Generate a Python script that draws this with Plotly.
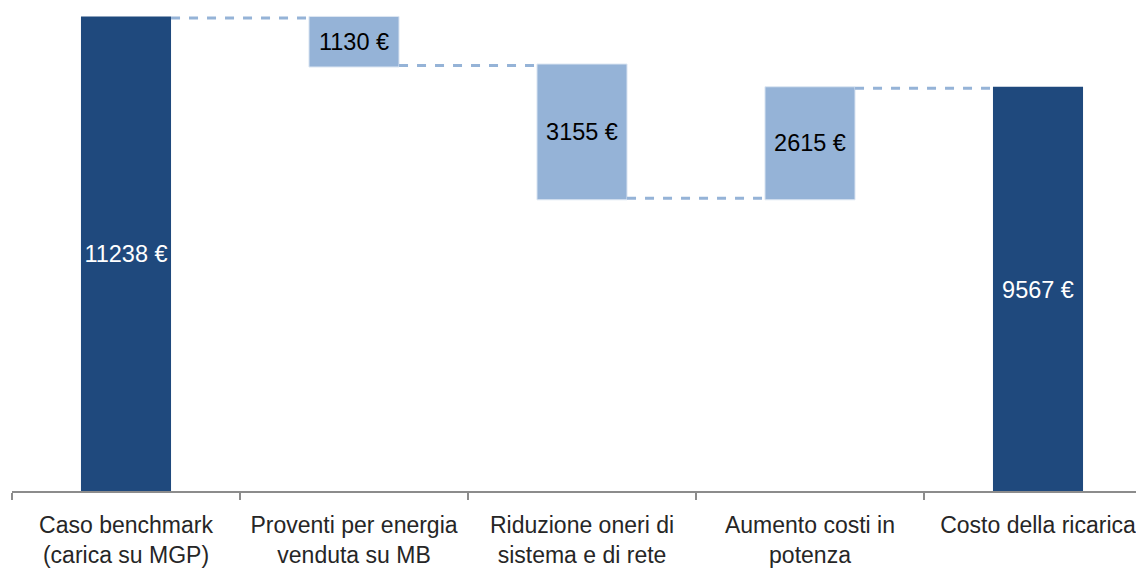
import plotly.graph_objects as go

categories = ["Caso benchmark<br>(carica su MGP)", "Proventi per energia<br>venduta su MB",
              "Riduzione oneri di<br>sistema e di rete", "Aumento costi in<br>potenza", "Costo della ricarica"]
measures = ["absolute", "relative", "relative", "relative", "total"]
values = [11238, -1130, -3155, 2615, 0]
labels = ["11238 €", "1130 €", "3155 €", "2615 €", "9567 €"]
label_colors = ["white", "black", "black", "black", "white"]

DARK = "#1F497D"
LIGHT = "#95B3D7"
FONT = "Liberation Sans, Arial, sans-serif"

fig = go.Figure(go.Waterfall(
    x=categories,
    measure=measures,
    y=values,
    text=labels,
    textposition="inside",
    insidetextanchor="middle",
    textangle=0,
    constraintext="none",
    textfont=dict(family=FONT, size=23.5, color=label_colors),
    width=0.395,
    totals=dict(marker=dict(color=DARK, line=dict(width=0))),
    increasing=dict(marker=dict(color=LIGHT, line=dict(color="#dce6f2", width=1))),
    decreasing=dict(marker=dict(color=LIGHT, line=dict(color="#dce6f2", width=1))),
    connector=dict(mode="between", line=dict(color=LIGHT, width=3, dash="dash")),
    hoverinfo="skip",
))

# page body has an 8px margin; compensate so the chart fills the 1144x568 window
px_per_unit = 476 / 11238
fig.update_layout(
    width=1136, height=560,
    margin=dict(l=4, r=0, t=0, b=75),
    paper_bgcolor="white", plot_bgcolor="white",
    showlegend=False,
    font=dict(family=FONT, color="#262626"),
    xaxis=dict(
        type="category",
        range=[-0.5, -0.5 + 1132 / 228],
        showline=True, linecolor="#8c8c8c", linewidth=1.5,
        ticks="outside", tickson="boundaries", ticklen=7, tickcolor="#8c8c8c", tickwidth=1.5,
        ticklabelstandoff=13,
        showgrid=False, zeroline=False,
        tickfont=dict(size=23, color="#262626"),
    ),
    yaxis=dict(
        range=[0, 11238 + 10 / px_per_unit],
        visible=False, showgrid=False, zeroline=False,
    ),
)

fig.write_html("out.html")
